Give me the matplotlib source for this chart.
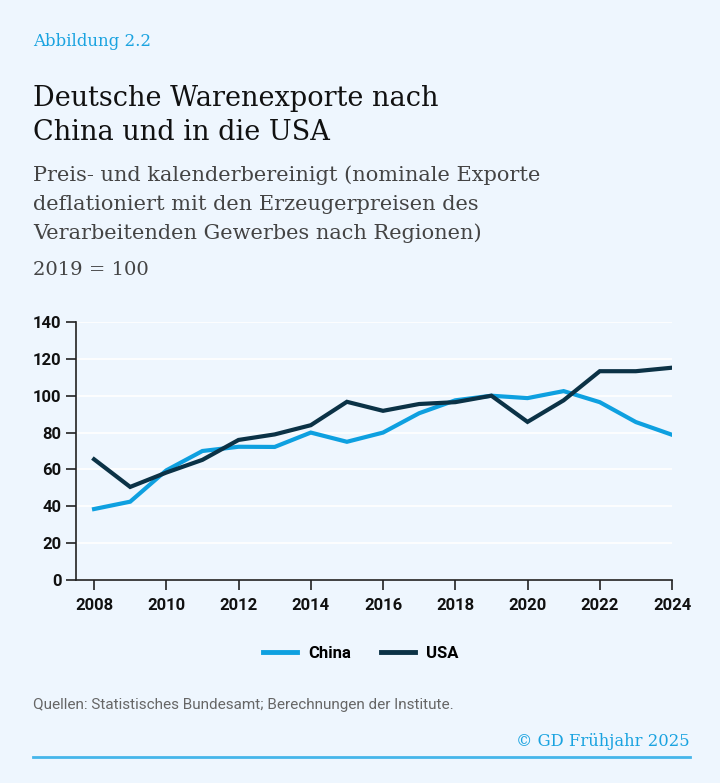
import matplotlib
matplotlib.use('Agg')
import matplotlib.pyplot as plt

# Daten (2019 = 100)
years = list(range(2008, 2025))
china = [38.5, 42.5, 59.5, 70.0, 72.3, 72.2, 80.0, 75.0, 80.0, 90.5, 97.5, 100.0, 98.7, 102.5, 96.5, 85.7, 78.8]
usa = [65.5, 50.5, 58.3, 65.2, 76.0, 79.0, 84.0, 96.7, 91.8, 95.5, 96.5, 100.0, 85.8, 97.5, 113.3, 113.3, 115.2]
yticks = [0, 20, 40, 60, 80, 100, 120, 140]
xticks = list(range(2008, 2025, 2))

bg = '#eef6fe'
c_china = '#0ea0e0'
c_usa = '#0b3246'
c_light = '#1aa3e0'

sans = 'Roboto'
serif = 'DejaVu Serif'

fig = plt.figure(figsize=(7.2, 7.83), dpi=100, facecolor=bg)

# Kopf
fig.text(33 / 720, 1 - 42 / 783, 'Abbildung 2.2', color=c_light, family=serif,
         fontsize=12, va='center')
fig.text(33 / 720, 1 - 98 / 783, 'Deutsche Warenexporte nach', color='#111111',
         family=serif, fontsize=19.5, va='center')
fig.text(33 / 720, 1 - 133 / 783, 'China und in die USA', color='#111111',
         family=serif, fontsize=19.5, va='center')
sub = ['Preis- und kalenderbereinigt (nominale Exporte',
       'deflationiert mit den Erzeugerpreisen des',
       'Verarbeitenden Gewerbes nach Regionen)']
for i, s in enumerate(sub):
    fig.text(33 / 720, 1 - (175 + 29 * i) / 783, s, color='#444444',
             family=serif, fontsize=15, va='center')
fig.text(33 / 720, 1 - 270 / 783, '2019 = 100', color='#444444',
         family=serif, fontsize=14, va='center')

# Diagramm
ax = fig.add_axes([76 / 720, 1 - 580 / 783, (672 - 76) / 720, (580 - 322) / 783])
ax.set_facecolor(bg)
ax.plot(years, china, color=c_china, lw=3, label='China', solid_joinstyle='miter')
ax.plot(years, usa, color=c_usa, lw=3, label='USA', solid_joinstyle='miter')
ax.set_xlim(2007.5, 2024)
ax.set_ylim(0, 140)
ax.set_xticks(xticks)
ax.set_yticks(yticks)
ax.grid(axis='y', color='white', lw=1.2)
ax.set_axisbelow(True)
for s in ['top', 'right']:
    ax.spines[s].set_visible(False)
for s in ['left', 'bottom']:
    ax.spines[s].set_color('#222222')
    ax.spines[s].set_linewidth(1.2)
ax.tick_params(axis='both', length=7, width=1.2, color='#222222',
               labelsize=12, labelcolor='#111111')
ax.tick_params(axis='x', pad=6)
for lab in ax.get_xticklabels() + ax.get_yticklabels():
    lab.set_family(sans)
    lab.set_fontweight('bold')

leg = fig.legend(loc='center', bbox_to_anchor=(361 / 720, 1 - 653 / 783), ncol=2,
                 frameon=False, handlelength=2.0, handletextpad=0.7, columnspacing=1.8,
                 prop={'family': sans, 'weight': 'bold', 'size': 12})
for h in leg.legend_handles:
    h.set_linewidth(3.5)

# Fuß
fig.text(33 / 720, 1 - 705 / 783, 'Quellen: Statistisches Bundesamt; Berechnungen der Institute.',
         color='#666666', family=sans, fontsize=11, va='center')
fig.text(690 / 720, 1 - 741 / 783, '\u00a9 GD Frühjahr 2025', color=c_light,
         family=serif, fontsize=11.8, va='center', ha='right')
fig.add_artist(plt.Line2D([33 / 720, 690 / 720], [1 - 757 / 783, 1 - 757 / 783],
                          color='#45b6ea', lw=2, transform=fig.transFigure))

fig.savefig('out.png', dpi=100, facecolor=bg)
